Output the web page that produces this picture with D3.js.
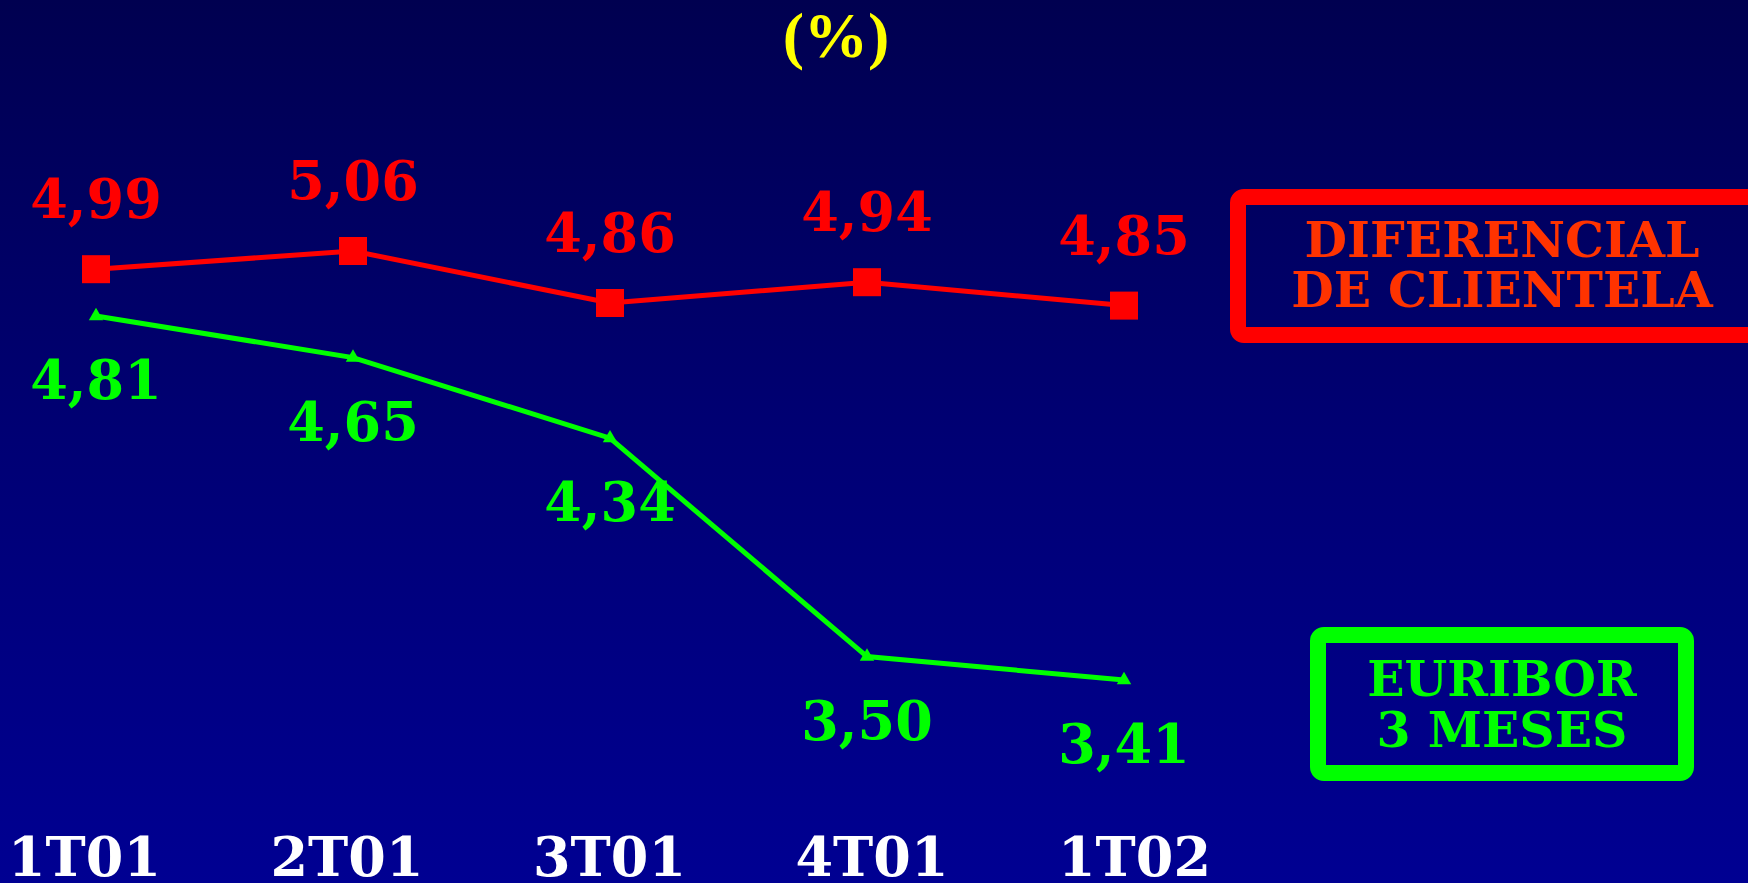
<!DOCTYPE html>
<html>
<head>
<meta charset="utf-8">
<script src="https://cdn.jsdelivr.net/npm/d3@7"></script>
<style>
  html, body { margin: 0; padding: 0; background: #000070; overflow: hidden; }
  svg { display: block; }
</style>
</head>
<body>
<svg id="chart" width="1748" height="883"></svg>
<script>
// ---- data ----
const categories = ["1T01", "2T01", "3T01", "4T01", "1T02"];
const diferencialValues = [4.99, 5.06, 4.86, 4.94, 4.85];
const euriborValues = [4.81, 4.65, 4.34, 3.50, 3.41];
const diferencialLabels = ["4,99", "5,06", "4,86", "4,94", "4,85"];
const euriborLabels = ["4,81", "4,65", "4,34", "3,50", "3,41"];
const titleText = "(%)";
const legendDiferencial = ["DIFERENCIAL", "DE CLIENTELA"];
const legendEuribor = ["EURIBOR", "3 MESES"];

const W = 1748, H = 883;
const svg = d3.select("#chart");

// background gradient
const defs = svg.append("defs");
const grad = defs.append("linearGradient").attr("id", "bg").attr("x1", 0).attr("y1", 0).attr("x2", 0).attr("y2", 1);
grad.append("stop").attr("offset", "0%").attr("stop-color", "#000050");
grad.append("stop").attr("offset", "50%").attr("stop-color", "#000074");
grad.append("stop").attr("offset", "100%").attr("stop-color", "#000092");
svg.append("rect").attr("width", W).attr("height", H).attr("fill", "url(#bg)");

// scales
const x = d3.scalePoint().domain(categories).range([96, 1124]);
const xAxisScale = d3.scalePoint().domain(categories).range([84, 1134]);
const y = d3.scaleLinear().domain([3.0, 5.5]).range([786.6, 136.6]);

const serif = "'DejaVu Serif', serif";

// title
svg.append("text")
  .attr("x", 836).attr("y", 57)
  .attr("text-anchor", "middle")
  .attr("font-family", "'Liberation Serif', serif")
  .attr("font-weight", "bold")
  .attr("font-size", 64)
  .attr("fill", "#ffff00")
  .text(titleText);

// lines
const line = d3.line().x((d, i) => x(categories[i])).y(d => y(d));

svg.append("path").datum(diferencialValues)
  .attr("d", line).attr("fill", "none")
  .attr("stroke", "#ff0000").attr("stroke-width", 5);

svg.append("path").datum(euriborValues)
  .attr("d", line).attr("fill", "none")
  .attr("stroke", "#00ff00").attr("stroke-width", 5);

// markers
const sq = 28;
svg.selectAll("rect.sq").data(diferencialValues).enter().append("rect")
  .attr("class", "sq")
  .attr("x", (d, i) => x(categories[i]) - sq / 2)
  .attr("y", d => y(d) - sq / 2)
  .attr("width", sq).attr("height", sq)
  .attr("fill", "#ff0000");

const tri = d3.symbol().type(d3.symbolTriangle).size(90);
svg.selectAll("path.tri").data(euriborValues).enter().append("path")
  .attr("class", "tri")
  .attr("d", tri)
  .attr("transform", (d, i) => `translate(${x(categories[i])},${y(d)})`)
  .attr("fill", "#00ff00");

// value labels
svg.selectAll("text.lr").data(diferencialValues).enter().append("text")
  .attr("class", "lr")
  .attr("x", (d, i) => x(categories[i]))
  .attr("y", d => y(d) - 51)
  .attr("text-anchor", "middle")
  .attr("font-family", serif).attr("font-weight", "bold").attr("font-size", 54)
  .attr("fill", "#ff0000")
  .text((d, i) => diferencialLabels[i]);

svg.selectAll("text.lg").data(euriborValues).enter().append("text")
  .attr("class", "lg")
  .attr("x", (d, i) => x(categories[i]))
  .attr("y", d => y(d) + 83)
  .attr("text-anchor", "middle")
  .attr("font-family", serif).attr("font-weight", "bold").attr("font-size", 54)
  .attr("fill", "#00ff00")
  .text((d, i) => euriborLabels[i]);

// x axis
const axis = svg.append("g")
  .attr("transform", "translate(0,876)")
  .call(d3.axisBottom(xAxisScale).tickSize(0).tickPadding(0));
axis.select(".domain").remove();
axis.selectAll("text")
  .attr("dy", 0)
  .attr("y", 0)
  .attr("font-family", serif).attr("font-weight", "bold").attr("font-size", 54)
  .attr("fill", "#ffffff");

// legend boxes
svg.append("rect")
  .attr("x", 1238).attr("y", 197).attr("width", 540).attr("height", 138)
  .attr("rx", 6).attr("fill", "none")
  .attr("stroke", "#ff0000").attr("stroke-width", 16);
svg.selectAll("text.legr").data(legendDiferencial).enter().append("text")
  .attr("class", "legr")
  .attr("x", 1502).attr("y", (d, i) => 257 + i * 50)
  .attr("text-anchor", "middle")
  .attr("font-family", serif).attr("font-weight", "bold").attr("font-size", 49)
  .attr("fill", "#ff3300")
  .text(d => d);

svg.append("rect")
  .attr("x", 1318).attr("y", 635).attr("width", 368).attr("height", 138)
  .attr("rx", 6).attr("fill", "none")
  .attr("stroke", "#00ff00").attr("stroke-width", 16);
svg.selectAll("text.legg").data(legendEuribor).enter().append("text")
  .attr("class", "legg")
  .attr("x", 1502).attr("y", (d, i) => 696 + i * 51)
  .attr("text-anchor", "middle")
  .attr("font-family", serif).attr("font-weight", "bold").attr("font-size", 49)
  .attr("fill", "#00ff00")
  .text(d => d);
</script>
</body>
</html>
